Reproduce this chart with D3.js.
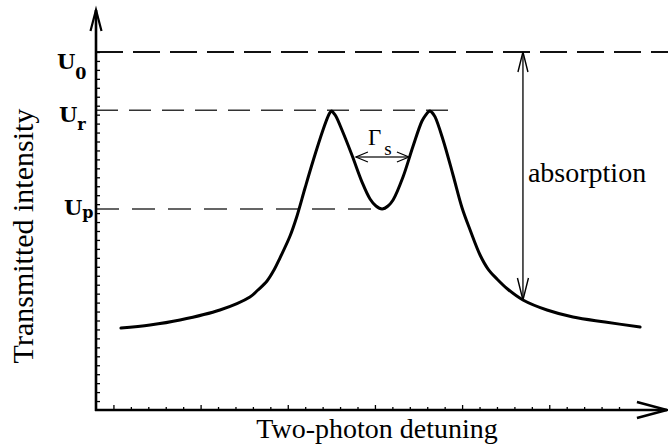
<!DOCTYPE html>
<html>
<head>
<meta charset="utf-8">
<script src="https://cdn.jsdelivr.net/npm/d3@7"></script>
<style>
  html, body { margin: 0; padding: 0; background: #fff; }
  svg { display: block; }
</style>
</head>
<body>
<svg id="chart" width="668" height="445"></svg>
<script>
// ---- data (axis units: detuning ticks, intensity ticks) ----
const detuning = [1.43, 3.10, 4.82, 7.11, 8.83, 9.29, 9.81, 10.21, 10.55, 11.13, 11.53, 11.99, 12.45, 13.02, 13.31, 13.41, 13.52,
  13.62, 13.77, 14.11, 14.68, 15.26, 15.72, 16.06, 16.41, 16.75, 17.04, 17.61, 18.19, 18.70, 18.93, 19.05, 19.16,
  19.27, 19.45, 19.91, 20.48, 21.00, 21.46, 22.03, 22.49, 23.00, 23.64, 24.49, 25.87, 27.36, 29.20, 31.21];
const intensity = [9.16, 9.50, 10.06, 11.17, 12.63, 13.41, 14.41, 15.64, 16.98, 19.44, 21.68, 24.80, 27.82, 31.28, 32.80, 33.20, 33.41,
  33.20, 32.80, 31.28, 28.49, 25.47, 23.58, 22.79, 22.46, 22.79, 23.46, 26.03, 29.50, 32.29, 33.00, 33.28, 33.41,
  33.25, 32.75, 30.17, 26.26, 22.57, 20.11, 17.32, 15.75, 14.64, 13.46, 12.29, 11.17, 10.39, 9.83, 9.27];

const levelNames = ["U", "U", "U"];
const levelSubs = ["0", "r", "p"];
const levelValues = [40, 33.5, 22.46];
const levelEnds = [33.0, 20.6, 16.6];

const xTickValues = d3.range(1, 31);
const xMajorTicks = [1, 6, 11, 16, 21, 26];
const yTickValues = d3.range(1, 41);

const xLabel = "Two-photon detuning";
const yLabel = "Transmitted intensity";
const absorptionLabel = "absorption";
const widthLabelMain = "Γ";
const widthLabelSub = "s";
const gammaArrow = [14.91, 17.95, 28.27];       // x1, x2, y
const absorptionArrow = [24.49, 40, 12.29];     // x, yTop, yBottom

// ---- scales ----
const svg = d3.select("#chart");
const x = d3.scaleLinear().domain([0, 30]).range([96, 619]);
const y = d3.scaleLinear().domain([0, 40]).range([410, 52]);

const xEnd = 32.75, yEnd = 44.7;
const SERIF = "Liberation Serif";

// dashed level lines
const levelStyles = [
  { dash: "27,10", w: 2.2, c: "#111" },
  { dash: "22,11", w: 1.5, c: "#333" },
  { dash: "23,13", w: 1.5, c: "#333" }
];
levelValues.forEach((v, i) => {
  svg.append("line")
    .attr("x1", x(0)).attr("x2", x(levelEnds[i]))
    .attr("y1", y(v)).attr("y2", y(v))
    .attr("stroke", levelStyles[i].c)
    .attr("stroke-width", levelStyles[i].w)
    .attr("stroke-dasharray", levelStyles[i].dash);
});

// ticks
const yAxis = d3.axisRight(y).tickValues(yTickValues).tickSize(4).tickFormat("");
const gy = svg.append("g").attr("transform", `translate(${x(0)},0)`).call(yAxis);
gy.select(".domain").remove();
gy.selectAll(".tick line").attr("stroke", "#000").attr("stroke-width", 1.3);

const xAxis = d3.axisTop(x).tickValues(xTickValues).tickSize(3).tickFormat("");
const gx = svg.append("g").attr("transform", `translate(0,${y(0)})`).call(xAxis);
gx.select(".domain").remove();
gx.selectAll(".tick line")
  .attr("stroke", "#000").attr("stroke-width", 1.3)
  .attr("y2", d => xMajorTicks.includes(d) ? -5 : -3);

// axis lines
svg.append("line").attr("x1", x(0)).attr("x2", x(0)).attr("y1", y(0) + 1).attr("y2", y(yEnd))
  .attr("stroke", "#000").attr("stroke-width", 2.6);
svg.append("line").attr("x1", x(0) - 1).attr("x2", x(xEnd)).attr("y1", y(0)).attr("y2", y(0))
  .attr("stroke", "#000").attr("stroke-width", 2.6);

// open V arrowheads
function vHead(tx, ty, dx, dy, back, half, w) {
  const len = Math.hypot(dx, dy), ux = dx / len, uy = dy / len;
  const bx = tx - ux * back, by = ty - uy * back;
  const px = -uy, py = ux;
  svg.append("path")
    .attr("d", `M${bx + px * half},${by + py * half}L${tx},${ty}L${bx - px * half},${by - py * half}`)
    .attr("fill", "none").attr("stroke", "#000").attr("stroke-width", w)
    .attr("stroke-linejoin", "miter");
}
vHead(x(0), y(yEnd), 0, -1, 21, 5.5, 2.2);
vHead(x(xEnd), y(0), 1, 0, 30, 8, 2.6);

// curve
const pts = detuning.map((d, i) => [d, intensity[i]]);
svg.append("path")
  .datum(pts)
  .attr("d", d3.line().x(d => x(d[0])).y(d => y(d[1])).curve(d3.curveCatmullRom.alpha(0.5)))
  .attr("fill", "none").attr("stroke", "#000").attr("stroke-width", 3)
  .attr("stroke-linejoin", "round").attr("stroke-linecap", "round");

// absorption arrow
const ax = x(absorptionArrow[0]);
svg.append("line").attr("x1", ax).attr("x2", ax)
  .attr("y1", y(absorptionArrow[1])).attr("y2", y(absorptionArrow[2]))
  .attr("stroke", "#222").attr("stroke-width", 1.5);
vHead(ax, y(absorptionArrow[1]), 0, -1, 20, 5, 1.4);
vHead(ax, y(absorptionArrow[2]), 0, 1, 22, 5.5, 1.4);

// gamma arrow
const gy0 = y(gammaArrow[2]);
svg.append("line").attr("x1", x(gammaArrow[0])).attr("x2", x(gammaArrow[1]))
  .attr("y1", gy0).attr("y2", gy0).attr("stroke", "#333").attr("stroke-width", 1.3);
vHead(x(gammaArrow[0]), gy0, -1, 0, 12, 5, 1.2);
vHead(x(gammaArrow[1]), gy0, 1, 0, 12, 5, 1.2);

// texts
svg.append("text").style("font-family", SERIF).attr("x", 377).attr("y", 438).attr("text-anchor", "middle")
  .attr("font-size", 28).attr("fill", "#000").text(xLabel);
svg.append("text").style("font-family", SERIF).attr("transform", "translate(33,236) rotate(-90)")
  .attr("text-anchor", "middle").attr("font-size", 30).attr("fill", "#000").text(yLabel);
svg.append("text").style("font-family", SERIF).attr("x", ax + 5).attr("y", 182)
  .attr("font-size", 28).attr("fill", "#000").text(absorptionLabel);

const gt = svg.append("text").style("font-family", SERIF).attr("x", 368).attr("y", 145)
  .attr("font-size", 23).attr("fill", "#000");
gt.append("tspan").text(widthLabelMain);
gt.append("tspan").attr("dx", 3).attr("dy", 10).attr("font-size", 19).text(widthLabelSub);

// level labels
const labelPos = [[57, 17, 10], [59, 12, 8], [64, 6, 3]]; // x, baseline offset, sub offset
levelValues.forEach((v, i) => {
  const t = svg.append("text").style("font-family", "DejaVu Serif").style("font-weight", "bold")
    .attr("x", labelPos[i][0]).attr("y", y(v) + labelPos[i][1])
    .attr("font-size", 21).attr("fill", "#000");
  t.append("tspan").text(levelNames[i]);
  t.append("tspan").attr("dy", labelPos[i][2]).attr("font-size", 16).text(levelSubs[i]);
});
</script>
</body>
</html>
